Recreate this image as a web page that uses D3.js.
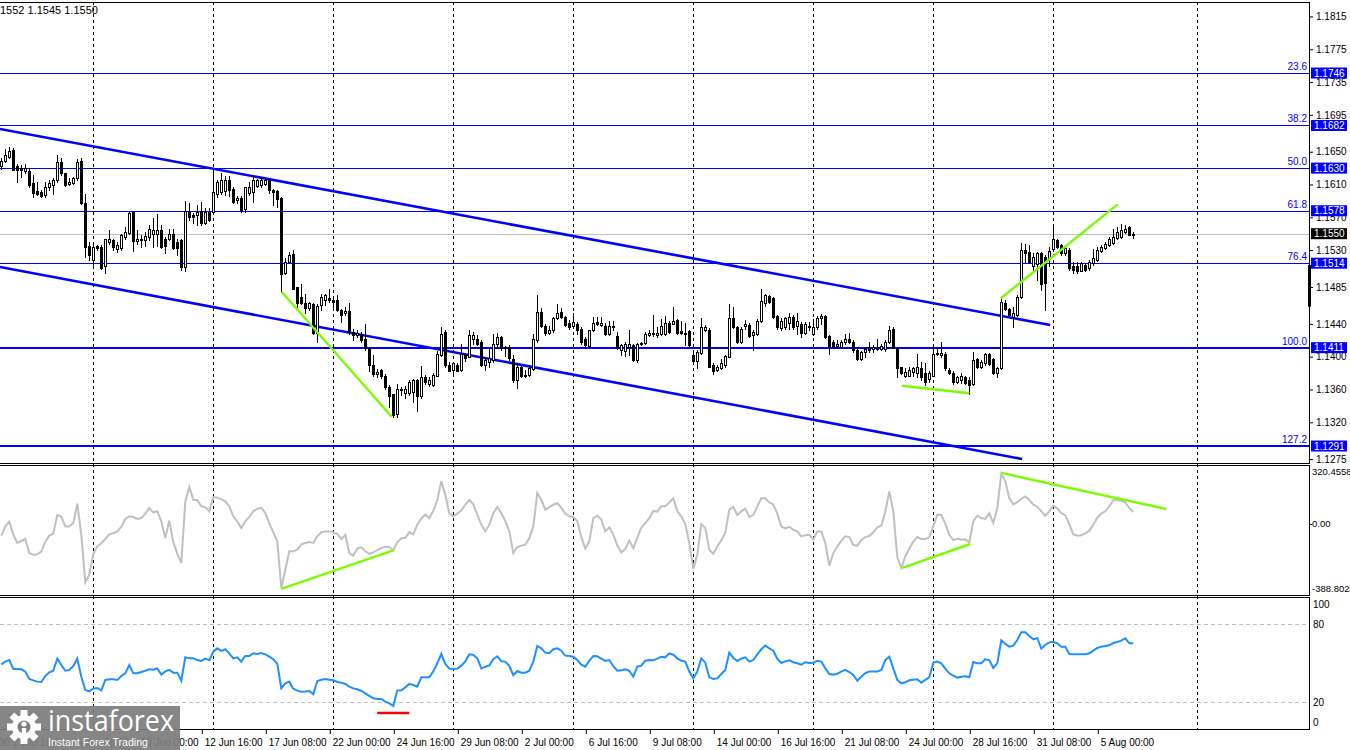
<!DOCTYPE html>
<html><head><meta charset="utf-8">
<script src="https://cdn.jsdelivr.net/npm/d3@7"></script>
<style>html,body{margin:0;padding:0;background:#fff;overflow:hidden}svg{display:block}</style>
</head><body><svg id="c" width="1350" height="750"></svg>
<script>
// ---------- DATA ----------
// H4 candles: [open, high, low, close]
const candles = [
[1.1633,1.1642,1.1629,1.1639],[1.1639,1.1653,1.1638,1.1646],[1.1643,1.1656,1.1642,1.1651],[1.1652,1.1654,1.1628,1.1628],[1.1632,1.1635,1.1613,1.1628],
[1.1630,1.1634,1.1619,1.1628],[1.1627,1.1635,1.1624,1.1630],[1.1626,1.1630,1.1607,1.1609],[1.1612,1.1622,1.1595,1.1600],[1.1602,1.1613,1.1597,1.1599],
[1.1601,1.1603,1.1595,1.1596],[1.1597,1.1613,1.1595,1.1607],[1.1607,1.1616,1.1603,1.1612],[1.1609,1.1618,1.1599,1.1616],[1.1616,1.1646,1.1613,1.1638],
[1.1638,1.1642,1.1622,1.1624],[1.1624,1.1624,1.1608,1.1610],[1.1611,1.1618,1.1610,1.1613],[1.1612,1.1619,1.1611,1.1618],[1.1618,1.1641,1.1616,1.1637],
[1.1639,1.1642,1.1586,1.1587],[1.1587,1.1599,1.1522,1.1534],[1.1535,1.1540,1.1518,1.1524],[1.1518,1.1538,1.1508,1.1534],[1.1535,1.1536,1.1530,1.1532],
[1.1534,1.1536,1.1507,1.1508],[1.1510,1.1544,1.1502,1.1543],[1.1540,1.1555,1.1538,1.1544],[1.1542,1.1544,1.1530,1.1534],[1.1531,1.1540,1.1528,1.1536],
[1.1532,1.1550,1.1530,1.1548],[1.1546,1.1558,1.1543,1.1552],[1.1551,1.1578,1.1550,1.1575],[1.1576,1.1577,1.1529,1.1541],[1.1541,1.1554,1.1538,1.1544],
[1.1542,1.1548,1.1534,1.1544],[1.1542,1.1552,1.1535,1.1547],[1.1546,1.1561,1.1542,1.1556],[1.1550,1.1569,1.1534,1.1555],[1.1550,1.1574,1.1535,1.1555],
[1.1555,1.1561,1.1533,1.1534],[1.1544,1.1546,1.1526,1.1535],[1.1543,1.1556,1.1542,1.1550],[1.1550,1.1556,1.1531,1.1532],[1.1540,1.1544,1.1524,1.1532],
[1.1542,1.1543,1.1506,1.1509],[1.1509,1.1590,1.1504,1.1578],[1.1578,1.1588,1.1567,1.1570],[1.1573,1.1575,1.1563,1.1570],[1.1573,1.1585,1.1561,1.1577],
[1.1578,1.1589,1.1561,1.1563],[1.1563,1.1581,1.1562,1.1577],[1.1577,1.1581,1.1565,1.1567],[1.1577,1.1624,1.1575,1.1601],[1.1599,1.1616,1.1595,1.1613],
[1.1601,1.1624,1.1599,1.1615],[1.1602,1.1620,1.1597,1.1616],[1.1616,1.1620,1.1596,1.1603],[1.1605,1.1607,1.1587,1.1589],[1.1591,1.1596,1.1587,1.1594],
[1.1594,1.1596,1.1577,1.1579],[1.1580,1.1607,1.1577,1.1607],[1.1600,1.1613,1.1597,1.1607],[1.1601,1.1620,1.1589,1.1616],[1.1608,1.1617,1.1607,1.1616],
[1.1609,1.1619,1.1607,1.1616],[1.1611,1.1618,1.1609,1.1616],[1.1616,1.1618,1.1600,1.1603],[1.1603,1.1605,1.1585,1.1601],[1.1602,1.1603,1.1583,1.1592],
[1.1593,1.1595,1.1479,1.1501],[1.1502,1.1520,1.1501,1.1516],[1.1516,1.1528,1.1514,1.1524],[1.1525,1.1530,1.1482,1.1483],[1.1485,1.1485,1.1461,1.1465],
[1.1473,1.1489,1.1464,1.1466],[1.1466,1.1477,1.1453,1.1459],[1.1459,1.1467,1.1457,1.1465],[1.1464,1.1465,1.1428,1.1429],[1.1429,1.1464,1.1418,1.1462],
[1.1463,1.1476,1.1457,1.1473],[1.1469,1.1477,1.1463,1.1475],[1.1471,1.1482,1.1467,1.1469],[1.1469,1.1473,1.1457,1.1467],[1.1469,1.1475,1.1456,1.1457],
[1.1457,1.1458,1.1442,1.1451],[1.1453,1.1461,1.1451,1.1456],[1.1456,1.1465,1.1428,1.1430],[1.1430,1.1434,1.1420,1.1426],[1.1426,1.1432,1.1424,1.1429],
[1.1428,1.1430,1.1418,1.1420],[1.1422,1.1440,1.1408,1.1410],[1.1410,1.1412,1.1383,1.1390],[1.1390,1.1402,1.1377,1.1379],[1.1379,1.1385,1.1375,1.1381],
[1.1384,1.1385,1.1374,1.1377],[1.1377,1.1379,1.1361,1.1363],[1.1363,1.1365,1.1339,1.1352],[1.1354,1.1355,1.1327,1.1329],[1.1330,1.1367,1.1327,1.1360],
[1.1359,1.1363,1.1353,1.1361],[1.1356,1.1364,1.1349,1.1361],[1.1356,1.1371,1.1353,1.1369],[1.1357,1.1373,1.1345,1.1371],[1.1372,1.1373,1.1334,1.1352],
[1.1352,1.1389,1.1350,1.1375],[1.1375,1.1378,1.1367,1.1369],[1.1367,1.1375,1.1364,1.1372],[1.1365,1.1380,1.1364,1.1378],[1.1377,1.1407,1.1376,1.1403],
[1.1402,1.1436,1.1401,1.1428],[1.1430,1.1432,1.1388,1.1390],[1.1390,1.1394,1.1382,1.1383],[1.1384,1.1394,1.1380,1.1392],[1.1390,1.1392,1.1382,1.1383],
[1.1384,1.1416,1.1383,1.1403],[1.1403,1.1404,1.1395,1.1398],[1.1400,1.1432,1.1399,1.1426],[1.1422,1.1430,1.1416,1.1427],[1.1422,1.1426,1.1414,1.1416],
[1.1418,1.1420,1.1389,1.1390],[1.1390,1.1399,1.1384,1.1396],[1.1394,1.1410,1.1387,1.1398],[1.1396,1.1428,1.1394,1.1415],[1.1415,1.1429,1.1413,1.1424],
[1.1424,1.1425,1.1408,1.1410],[1.1410,1.1413,1.1401,1.1412],[1.1412,1.1414,1.1396,1.1398],[1.1397,1.1402,1.1369,1.1371],[1.1372,1.1392,1.1362,1.1387],
[1.1387,1.1389,1.1375,1.1376],[1.1376,1.1384,1.1375,1.1378],[1.1378,1.1390,1.1376,1.1386],[1.1385,1.1428,1.1384,1.1421],[1.1420,1.1475,1.1418,1.1454],
[1.1454,1.1459,1.1436,1.1437],[1.1437,1.1440,1.1426,1.1429],[1.1429,1.1437,1.1428,1.1432],[1.1432,1.1448,1.1430,1.1447],[1.1447,1.1464,1.1446,1.1453],
[1.1454,1.1459,1.1447,1.1448],[1.1448,1.1450,1.1437,1.1439],[1.1441,1.1445,1.1434,1.1436],[1.1438,1.1453,1.1436,1.1442],[1.1440,1.1442,1.1428,1.1433],
[1.1434,1.1436,1.1415,1.1418],[1.1421,1.1424,1.1412,1.1414],[1.1413,1.1433,1.1410,1.1432],[1.1432,1.1448,1.1431,1.1441],[1.1442,1.1448,1.1439,1.1440],
[1.1439,1.1448,1.1437,1.1441],[1.1437,1.1441,1.1426,1.1428],[1.1428,1.1443,1.1426,1.1437],[1.1436,1.1443,1.1432,1.1438],[1.1425,1.1430,1.1409,1.1410],
[1.1408,1.1416,1.1402,1.1414],[1.1407,1.1418,1.1401,1.1415],[1.1412,1.1432,1.1402,1.1416],[1.1414,1.1415,1.1395,1.1396],[1.1396,1.1417,1.1393,1.1416],
[1.1415,1.1418,1.1414,1.1417],[1.1417,1.1430,1.1416,1.1428],[1.1426,1.1432,1.1425,1.1429],[1.1429,1.1451,1.1425,1.1428],[1.1427,1.1436,1.1424,1.1429],
[1.1428,1.1446,1.1426,1.1437],[1.1428,1.1449,1.1427,1.1441],[1.1441,1.1443,1.1429,1.1430],[1.1440,1.1461,1.1440,1.1444],[1.1445,1.1446,1.1428,1.1429],
[1.1431,1.1443,1.1428,1.1429],[1.1429,1.1441,1.1414,1.1428],[1.1431,1.1432,1.1413,1.1414],[1.1402,1.1406,1.1394,1.1395],[1.1395,1.1408,1.1386,1.1406],
[1.1405,1.1447,1.1403,1.1436],[1.1432,1.1439,1.1431,1.1436],[1.1433,1.1435,1.1387,1.1388],[1.1390,1.1392,1.1379,1.1383],[1.1384,1.1390,1.1382,1.1387],
[1.1386,1.1397,1.1385,1.1392],[1.1390,1.1402,1.1388,1.1401],[1.1400,1.1464,1.1399,1.1447],[1.1447,1.1461,1.1435,1.1436],[1.1436,1.1437,1.1417,1.1418],
[1.1418,1.1436,1.1417,1.1434],[1.1437,1.1445,1.1434,1.1440],[1.1439,1.1441,1.1424,1.1425],[1.1426,1.1433,1.1408,1.1430],[1.1428,1.1446,1.1427,1.1444],
[1.1444,1.1483,1.1442,1.1468],[1.1466,1.1476,1.1462,1.1475],[1.1474,1.1475,1.1465,1.1467],[1.1471,1.1473,1.1447,1.1448],[1.1449,1.1451,1.1434,1.1436],
[1.1435,1.1447,1.1433,1.1444],[1.1436,1.1448,1.1434,1.1447],[1.1441,1.1453,1.1434,1.1448],[1.1448,1.1451,1.1434,1.1436],[1.1437,1.1453,1.1428,1.1444],
[1.1440,1.1442,1.1424,1.1429],[1.1429,1.1442,1.1428,1.1440],[1.1438,1.1442,1.1432,1.1436],[1.1428,1.1446,1.1426,1.1436],[1.1436,1.1449,1.1434,1.1447],
[1.1447,1.1452,1.1440,1.1450],[1.1449,1.1451,1.1423,1.1424],[1.1425,1.1426,1.1403,1.1412],[1.1418,1.1420,1.1411,1.1412],[1.1413,1.1420,1.1411,1.1416],
[1.1412,1.1420,1.1410,1.1418],[1.1418,1.1428,1.1416,1.1422],[1.1422,1.1429,1.1417,1.1418],[1.1418,1.1420,1.1406,1.1408],[1.1408,1.1412,1.1396,1.1397],
[1.1397,1.1407,1.1396,1.1406],[1.1406,1.1412,1.1400,1.1409],[1.1412,1.1418,1.1406,1.1408],[1.1409,1.1414,1.1406,1.1412],[1.1411,1.1422,1.1408,1.1409],
[1.1409,1.1416,1.1408,1.1413],[1.1409,1.1420,1.1407,1.1418],[1.1418,1.1437,1.1417,1.1433],[1.1434,1.1436,1.1410,1.1411],[1.1411,1.1412,1.1375,1.1386],
[1.1387,1.1388,1.1379,1.1380],[1.1377,1.1386,1.1375,1.1381],[1.1377,1.1387,1.1376,1.1384],[1.1381,1.1388,1.1377,1.1386],[1.1380,1.1403,1.1375,1.1388],
[1.1386,1.1394,1.1371,1.1375],[1.1380,1.1392,1.1365,1.1369],[1.1373,1.1382,1.1369,1.1380],[1.1377,1.1412,1.1376,1.1403],[1.1403,1.1412,1.1402,1.1405],
[1.1402,1.1418,1.1400,1.1405],[1.1403,1.1406,1.1384,1.1386],[1.1384,1.1386,1.1379,1.1380],[1.1380,1.1382,1.1367,1.1369],[1.1369,1.1376,1.1368,1.1375],
[1.1371,1.1380,1.1368,1.1376],[1.1375,1.1376,1.1367,1.1368],[1.1371,1.1375,1.1355,1.1366],[1.1367,1.1406,1.1366,1.1396],[1.1397,1.1398,1.1386,1.1387],
[1.1387,1.1396,1.1386,1.1393],[1.1392,1.1405,1.1390,1.1403],[1.1403,1.1405,1.1390,1.1391],[1.1397,1.1398,1.1379,1.1380],[1.1380,1.1388,1.1375,1.1386],
[1.1386,1.1471,1.1385,1.1467],[1.1465,1.1469,1.1457,1.1458],[1.1458,1.1459,1.1450,1.1451],[1.1448,1.1461,1.1436,1.1453],[1.1451,1.1475,1.1450,1.1473],
[1.1473,1.1539,1.1472,1.1530],[1.1530,1.1538,1.1516,1.1527],[1.1528,1.1536,1.1514,1.1516],[1.1510,1.1526,1.1504,1.1521],[1.1513,1.1528,1.1493,1.1526],
[1.1526,1.1528,1.1481,1.1489],[1.1521,1.1524,1.1457,1.1490],[1.1519,1.1534,1.1510,1.1529],[1.1531,1.1562,1.1529,1.1543],[1.1542,1.1544,1.1532,1.1534],
[1.1536,1.1538,1.1524,1.1526],[1.1527,1.1536,1.1524,1.1532],[1.1530,1.1532,1.1506,1.1508],[1.1510,1.1516,1.1502,1.1506],[1.1510,1.1515,1.1502,1.1505],
[1.1505,1.1515,1.1504,1.1514],[1.1512,1.1514,1.1504,1.1506],[1.1508,1.1518,1.1506,1.1516],[1.1514,1.1531,1.1512,1.1520],[1.1518,1.1534,1.1517,1.1530],
[1.1529,1.1536,1.1528,1.1534],[1.1532,1.1540,1.1531,1.1538],[1.1536,1.1546,1.1535,1.1543],[1.1539,1.1556,1.1538,1.1546],[1.1545,1.1558,1.1544,1.1552],
[1.1546,1.1562,1.1545,1.1554],[1.1552,1.1561,1.1551,1.1556],[1.1558,1.1559,1.1548,1.1549],[1.1549,1.1552,1.1545,1.1550]
];
// CCI per bar
const cci = [
-66,-14,13,-61,-107,-96,-85,-164,-173,-171,
-156,-100,-66,-55,50,41,-14,-14,5,114,
-61,-329,-286,-168,-126,-109,-85,-57,-53,-42,
-17,28,43,39,28,33,58,90,65,71,
15,-79,20,-104,-168,-220,127,208,136,133,
99,95,71,151,148,140,127,99,43,15,
-23,15,39,71,86,91,61,5,-47,-98,
-361,-258,-154,-154,-145,-115,-107,-102,-107,-70,
-47,-42,-42,-46,-55,-85,-61,-164,-179,-138,
-132,-154,-168,-160,-147,-136,-128,-130,-149,-104,
-81,-79,-46,-59,-4,30,52,33,75,133,
240,165,61,43,58,76,108,136,110,52,
-4,-42,-4,61,95,61,15,-42,-164,-130,
-122,-117,-79,-14,174,136,80,95,108,118,
90,58,43,39,15,-74,-139,-98,33,46,
24,-42,-19,-61,-122,-160,-141,-94,-136,-77,
-21,5,33,73,69,99,99,121,144,71,
41,-2,-107,-254,-173,-1,-23,-145,-168,-126,
-92,-51,80,95,50,71,86,39,50,99,
144,144,121,110,58,-14,-25,-16,-32,-42,
-70,-64,-61,-89,-42,-42,-107,-235,-164,-126,
-96,-70,-74,-119,-122,-92,-74,-68,-47,-19,
-10,67,183,71,-188,-248,-183,-138,-100,-74,
-85,-85,-74,-14,52,52,1,-61,-91,-83,
-89,-87,-104,15,46,33,28,61,5,90,
283,240,146,110,123,142,155,136,108,97,
71,46,71,103,88,61,48,-1,-59,-66,
-64,-53,-38,-4,35,58,71,99,133,133,
131,121,90,67
];
// RSI per bar
const rsi = [
49.2,51.3,52.5,45.6,45.6,45.4,43.6,37.9,36.9,35.9,
35.6,40.2,43.1,44.3,53.6,48.7,44.3,44.9,47.9,53.6,
39.7,29.5,28.4,30.7,31,29,37.2,37.7,37.7,37.2,
40.2,42.3,48.7,42.3,42.3,43.3,44.3,45.4,45.1,46.1,
41.3,43.8,44.9,42.8,42.8,36.6,54.6,53.8,53.8,52.5,
51.8,53.6,52.3,59,61.5,59.5,60.8,57.7,53.8,54.6,
51.3,55.6,55.6,57.7,57.2,57.9,56.9,55.1,53.1,49.7,
30.7,34.6,35.9,30.5,29,28.2,28.4,28.7,26.1,36.4,
37.4,37.9,37.4,36.9,35.6,35.1,34.1,32,30.7,30,
28.7,26.9,24.9,23.1,22.6,22.6,20.5,19.2,17.2,29,
29.2,31.5,34.1,33.3,32,39.2,39.2,39.2,43.8,50,
57.2,49.5,45.9,45.6,45.9,48.2,51.5,56.9,56.4,53.8,
46.1,47.4,48.4,53.1,55.4,51.5,51.3,47.9,40.8,44.1,
42.8,42.8,44.3,51.3,63.3,61.5,58.2,57.7,60.8,61.5,
59.7,55.9,55.6,55.1,52.5,49,47.4,52,55.6,55.4,
53.6,51.8,52.5,47.9,44.3,44.6,45.4,44.3,39.7,47.4,
48.2,52,52.5,52.3,53.6,55.1,54.6,57.7,56.6,53.8,
52,51.3,43.6,38.4,43.6,53.8,50.5,39.2,37.9,38.4,
41.8,44.9,58.2,54.1,51.8,53.6,54.6,51.3,52.5,56.9,
60.8,63.6,61.5,59.7,53.6,50.2,51.5,52.3,50.8,50,
49,50.8,50.2,50.5,52,51.3,46.1,41.8,41.3,42,
43.6,44.9,43.3,41,36.6,39.7,42.5,43.6,43.6,43.6,
44.9,52.5,55.1,46.1,37.2,34.6,35.4,36.9,37.4,37.7,
35.1,37.2,39.2,50.5,51.3,50,45.9,42.3,40.5,39,
39.7,40,39.2,51,50,50,53.1,52.5,46.4,50,
67.7,64.9,62.8,63.6,67.9,73.8,73.8,71,68.4,69.5,
61.3,64.1,66.1,66.6,65.4,62.8,62.8,57.2,56.9,56.9,
56.9,56.9,57.7,59.7,61.8,62.8,63.3,63.8,65.6,66.4,
67.4,69.2,65.4,65.4
];
const headerText = "1552 1.1545 1.1550";
const lastPrice = 1.1550;
const priceTicks = [1.1815,1.1775,1.1735,1.1695,1.1650,1.1610,1.1570,1.1530,1.1485,1.1440,1.1400,1.1360,1.1320,1.1275];
const fibPct = ["23.6","38.2","50.0","61.8","76.4","100.0","127.2"];
const fibPrice = [1.1746,1.1682,1.1630,1.1578,1.1514,1.1411,1.1291];
const fibBold = [false,false,false,false,false,true,true];
const timeBars = [-14,2,18,34,50,66,82,98,114,130,146,162,178,194,210,226,242,258,274];
const timeText = ["30 May 00:00","2 Jun 16:00","5 Jun 08:00","10 Jun 00:00","12 Jun 16:00","17 Jun 08:00","22 Jun 00:00","24 Jun 16:00","29 Jun 08:00","2 Jul 00:00","6 Jul 16:00","9 Jul 08:00","14 Jul 00:00","16 Jul 16:00","21 Jul 08:00","24 Jul 00:00","28 Jul 16:00","31 Jul 08:00","5 Aug 00:00"];
const gridBars = [23,53,83,113,143,173,203,233,263,299];
// trend lines as [bar, price]
const channelLines = [[[-0.33,1.16777],[262.2,1.14386]],[[-0.33,1.15094],[255.2,1.12752]]];
const priceGreen = [[[70.1,1.14792],[97.6,1.13268]],[[225.2,1.13646],[242.0,1.13553]],[[249.9,1.14712],[279.1,1.15858]]];
const cciGreen = [[[70,-366],[98,-149]],[[225.3,-248],[242.2,-113]],[[250,287],[291.2,84]]];
const rsiRed = [[[94,11.8],[102,11.8]]];
const cciMax = 320.4558, cciMin = -388.8028;
const cciLabels = ["320.4558","0.00","-388.8028"];
const rsiTicks = [100,80,20,0];
const rsiLevels = [80,20];
const barRange = [0,283];
// ---------- DRAW ----------
const svg = d3.select("#c");
const FONT = "Tahoma, 'Liberation Sans', Arial, sans-serif";
const R = 1309;
const P = {main:[2,463], cci:[465,595], rsi:[597,729]};
const x = d3.scaleLinear().domain(barRange).range([1.3, 1.3 + 4*(barRange[1]-barRange[0])]);
const yP = d3.scaleLinear().domain([1.12703,1.18314]).range([463,3]);
const yC = d3.scaleLinear().domain([cciMin,cciMax]).range([593,467]);
const yR = d3.scaleLinear().domain([0,100]).range([728.3,598.3]);

const defs = svg.append("defs");
Object.entries(P).forEach(([k,[t,b]])=>{
  defs.append("clipPath").attr("id","clip-"+k).append("rect").attr("x",0).attr("y",t).attr("width",R).attr("height",b-t);
});

// grid verticals
svg.append("g").attr("shape-rendering","crispEdges").selectAll("line").data(gridBars).join("line")
  .attr("x1",d=>Math.round(x(d))+0.5).attr("x2",d=>Math.round(x(d))+0.5)
  .attr("y1",P.main[0]).attr("y2",P.rsi[1])
  .attr("stroke","#000").attr("stroke-width",1).attr("stroke-dasharray","3,3");

// ---- MAIN ----
const gM = svg.append("g").attr("clip-path","url(#clip-main)");
// fib levels
gM.append("g").attr("shape-rendering","crispEdges").selectAll("line.fib").data(fibPrice).join("line").attr("class","fib")
  .attr("x1",0).attr("x2",R).attr("y1",(d,i)=>Math.round(yP(d))+(fibBold[i]?0:0.5)).attr("y2",(d,i)=>Math.round(yP(d))+(fibBold[i]?0:0.5))
  .attr("stroke","#0000ff").attr("stroke-width",(d,i)=>fibBold[i]?2:1);
// last price line
gM.append("line").attr("shape-rendering","crispEdges").attr("x1",0).attr("x2",R).attr("y1",Math.round(yP(lastPrice))+0.5).attr("y2",Math.round(yP(lastPrice))+0.5)
  .attr("stroke","#c0c0c0").attr("stroke-width",1);
// channel
const lineP = d3.line().x(d=>x(d[0])).y(d=>yP(d[1]));
gM.selectAll("path.ch").data(channelLines).join("path").attr("d",lineP)
  .attr("fill","none").attr("stroke","#0000ff").attr("stroke-width",2.6);
// candles
const gCand = gM.append("g").attr("shape-rendering","crispEdges");
gCand.selectAll("line.wick").data(candles).join("line")
  .attr("x1",(d,i)=>Math.round(x(i))+0.5).attr("x2",(d,i)=>Math.round(x(i))+0.5)
  .attr("y1",d=>Math.round(yP(d[1]))).attr("y2",d=>Math.round(yP(d[2]))+1)
  .attr("stroke","#000").attr("stroke-width",1);
gCand.selectAll("rect.body").data(candles).join("rect")
  .attr("x",(d,i)=>Math.round(x(i))-1+0.5)
  .attr("y",d=>Math.round(yP(Math.max(d[0],d[3])))+0.5)
  .attr("width",2)
  .attr("height",d=>Math.max(1,Math.round(yP(Math.min(d[0],d[3])))-Math.round(yP(Math.max(d[0],d[3])))))
  .attr("fill",d=>d[3]>=d[0]?"#fff":"#000").attr("stroke","#000").attr("stroke-width",1);
// green lines
gM.selectAll("path.gr").data(priceGreen).join("path").attr("d",lineP)
  .attr("fill","none").attr("stroke","#7cfc00").attr("stroke-width",2.4);

// fib pct text
svg.selectAll("text.fp").data(fibPct).join("text")
  .attr("x",R-2).attr("y",(d,i)=>yP(fibPrice[i])-3).attr("text-anchor","end")
  .attr("font-family",FONT).attr("font-size",10).attr("fill","#0000ff").text(d=>d);

// price axis
const axP = svg.append("g").attr("transform",`translate(${R},0)`)
  .call(d3.axisRight(yP).tickValues(priceTicks).tickFormat(d3.format(".4f")).tickSize(4).tickPadding(3));
axP.select(".domain").remove();
axP.selectAll("text").attr("font-family",FONT).attr("font-size",10).attr("fill","#000");
axP.selectAll("line").attr("stroke","#000");

// fib boxes
const fb = svg.append("g").selectAll("g").data(fibPrice).join("g");
fb.append("rect").attr("x",R+2).attr("y",d=>yP(d)-5.5).attr("width",36).attr("height",11).attr("fill","#0000ff");
fb.append("text").attr("x",R+5).attr("y",d=>yP(d)).attr("dy","0.35em").attr("font-family",FONT).attr("font-size",10)
  .attr("fill","#fff").text(d=>d3.format(".4f")(d));
// last price box
svg.append("rect").attr("x",R+2).attr("y",yP(lastPrice)-5.5).attr("width",36).attr("height",11).attr("fill","#000");
svg.append("text").attr("x",R+5).attr("y",yP(lastPrice)).attr("dy","0.35em").attr("font-family",FONT).attr("font-size",10)
  .attr("fill","#fff").text(d3.format(".4f")(lastPrice));
// black marker on the axis
svg.append("rect").attr("x",R-1).attr("width",3).attr("y",yP(1.1512)).attr("height",yP(1.1461)-yP(1.1512)).attr("fill","#000");

// header
svg.append("text").attr("x",0).attr("y",14).attr("font-family",FONT).attr("font-size",11).attr("fill","#000").text(headerText);

// ---- CCI ----
const gCC = svg.append("g").attr("clip-path","url(#clip-cci)");
gCC.append("path").datum(cci).attr("d",d3.line().x((d,i)=>x(i)).y(d=>yC(d)))
  .attr("fill","none").attr("stroke","#c0c0c0").attr("stroke-width",2);
const lineC = d3.line().x(d=>x(d[0])).y(d=>yC(d[1]));
gCC.selectAll("path.g").data(cciGreen).join("path").attr("d",lineC)
  .attr("fill","none").attr("stroke","#7cfc00").attr("stroke-width",2.4);
svg.selectAll("text.cl").data(cciLabels).join("text")
  .attr("x",R+3).attr("y",(d,i)=>i===0?472:(i===2?589:yC(0)))
  .attr("dy","0.35em").attr("font-family",FONT).attr("font-size",9.5).attr("fill","#000").text(d=>d);
svg.append("line").attr("x1",R).attr("x2",R+3).attr("y1",Math.round(yC(0))+0.5).attr("y2",Math.round(yC(0))+0.5).attr("stroke","#000");

// ---- RSI ----
const gR = svg.append("g").attr("clip-path","url(#clip-rsi)");
gR.selectAll("line.lv").data(rsiLevels).join("line")
  .attr("x1",0).attr("x2",R).attr("y1",d=>Math.round(yR(d))+0.5).attr("y2",d=>Math.round(yR(d))+0.5)
  .attr("stroke","#c0c0c0").attr("stroke-dasharray","4,3");
gR.append("path").datum(rsi).attr("d",d3.line().x((d,i)=>x(i)).y(d=>yR(d)))
  .attr("fill","none").attr("stroke","#1e90ff").attr("stroke-width",2);
gR.selectAll("path.r").data(rsiRed).join("path").attr("d",d3.line().x(d=>x(d[0])).y(d=>yR(d[1])))
  .attr("fill","none").attr("stroke","#ff0000").attr("stroke-width",2.4);
svg.selectAll("text.rl").data(rsiTicks).join("text")
  .attr("x",R+4).attr("y",d=>d===100?604:(d===0?722:yR(d)))
  .attr("dy","0.35em").attr("font-family",FONT).attr("font-size",10).attr("fill","#000").text(d=>d);

// panel borders
const gB = svg.append("g").attr("shape-rendering","crispEdges");
[P.main,P.cci,P.rsi].forEach(([t,b])=>{
  gB.append("line").attr("x1",0).attr("x2",R).attr("y1",t+0.5).attr("y2",t+0.5).attr("stroke","#000");
  gB.append("line").attr("x1",0).attr("x2",R).attr("y1",b+0.5).attr("y2",b+0.5).attr("stroke","#000");
  gB.append("line").attr("x1",R+0.5).attr("x2",R+0.5).attr("y1",t).attr("y2",b+1).attr("stroke","#000");
});

// time axis
const axT = svg.append("g").attr("transform",`translate(0,${P.rsi[1]+1})`)
  .call(d3.axisBottom(x).tickValues(timeBars).tickFormat((d,i)=>timeText[i]).tickSize(4).tickPadding(5));
axT.select(".domain").remove();
axT.selectAll("line").attr("stroke","#000").attr("transform","translate(0.5,0)");
axT.selectAll("text").attr("text-anchor","start").attr("dx",3).attr("font-family",FONT).attr("font-size",10).attr("fill","#000");

// logo
const lg = svg.append("g");
lg.append("rect").attr("x",0).attr("y",706).attr("width",180).attr("height",44).attr("fill","#7d7d7d").attr("opacity",0.93);
const gear = lg.append("g").attr("transform","translate(24,727)");
d3.range(8).forEach(k=>{
  gear.append("rect").attr("x",-3.5).attr("y",-17).attr("width",7).attr("height",8).attr("fill","#fff").attr("transform",`rotate(${k*45})`);
});
gear.append("circle").attr("r",12).attr("fill","#fff");
gear.append("circle").attr("r",6.5).attr("fill","#7d7d7d");
gear.append("circle").attr("cy",-3).attr("r",2.6).attr("fill","#fff");
gear.append("rect").attr("x",-2.2).attr("y",1).attr("width",4.4).attr("height",16).attr("fill","#fff");
lg.append("text").attr("x",48).attr("y",731).attr("font-family","'Open Sans', 'Liberation Sans', sans-serif").attr("font-size",29)
  .attr("fill","#fff").attr("textLength",126).attr("lengthAdjust","spacingAndGlyphs").text("instaforex");
lg.append("text").attr("x",48).attr("y",746).attr("font-family","'Liberation Sans', Arial, sans-serif").attr("font-size",11)
  .attr("fill","#fff").attr("textLength",100).attr("lengthAdjust","spacingAndGlyphs").text("Instant Forex Trading");
</script></body></html>
